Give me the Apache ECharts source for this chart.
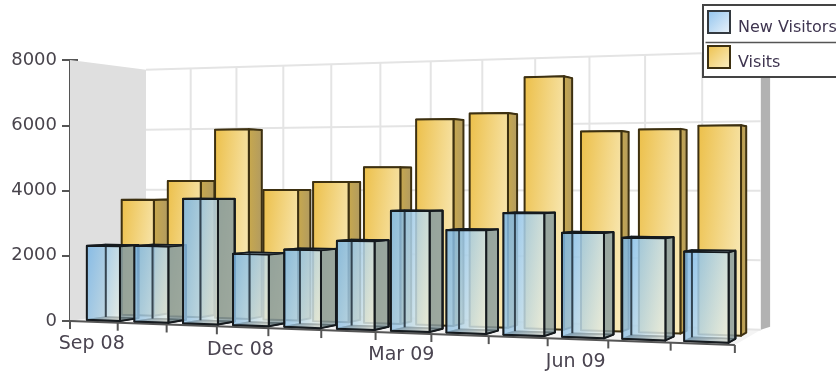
<!DOCTYPE html>
<html>
<head>
<meta charset="utf-8">
<style>html,body{margin:0;padding:0;background:#fff}#chart{width:836px;height:373px}</style>
<script src="https://cdn.jsdelivr.net/npm/echarts@6/dist/echarts.min.js"></script>
</head>
<body>
<div id="chart"></div>
<script>
// Monthly traffic, Sep 08 to Aug 09
var months = ['Sep 08','Oct 08','Nov 08','Dec 08','Jan 09','Feb 09','Mar 09','Apr 09','May 09','Jun 09','Jul 09','Aug 09'];
var shownMonths = ['Sep 08','Dec 08','Mar 09','Jun 09'];
var newVisitors = [2290,2310,3750,2120,2270,2550,3430,2900,3390,2860,2740,2390];
var visits = [3690,4290,5900,4010,4260,4700,6120,6270,7300,5700,5740,5820];
var valueTicks = [0,2000,4000,6000,8000];

// Camera for the box: u runs along the categories, d into the depth, v up the value axis.
var cam = {a:555, b:88.8, c:70, e:16, f:-27.6, k:321, g:-0.1495, h:0.0877, H:261};
function project(u, d, v) {
  var w = 1 + cam.g*u + cam.h*d;
  var x = (cam.a*u + cam.b*d + cam.c)/w;
  var y = (cam.f*u + cam.e*d + cam.k - cam.H*v)/w;
  return [x, y];
}
var lg = echarts.graphic.LinearGradient;

// Turns a grid coordinate into unit fractions of the plot
function fractions(api, params, cat, val) {
  var p = api.coord([cat, val]), s = params.coordSys;
  return {u:(p[0]-s.x)/s.width, v:(s.y+s.height-p[1])/s.height, band:api.size([1,0])[0]/s.width};
}
function poly(points, style) {
  style.lineJoin = 'round';
  return {type:'polygon', shape:{points:points}, style:style, silent:true};
}
function seg(p, q, stroke, lw) {
  return {type:'line', shape:{x1:p[0],y1:p[1],x2:q[0],y2:q[1]}, style:{stroke:stroke,lineWidth:lw,fill:null}, silent:true};
}
// Face shading: the top right corner sits 70% along the ramp and the bottom left 30%, whatever the bar's height
function faceFill(p0, p1, p2, c0, c1) {
  var w = Math.abs(p1[0]-p0[0]), h = Math.abs(p2[1]-p1[1]);
  var D = 1/(0.49/(w*w) + 0.09/(h*h));
  return new lg(0, 0, 0.7*D/(w*w), 0.3*D/(h*h), [{offset:0,color:c0},{offset:1,color:c1}]);
}

function renderRoom(params, api) {
  var ch = [];
  var top = fractions(api, params, 0, valueTicks[valueTicks.length-1]).v;
  // floor, rear wall, side wall and the wall's thick right edge
  ch.push(poly([project(0,0,0),project(1,0,0),project(1,1,0),project(0,1,0)], {fill:'#f4f4f4'}));
  ch.push(poly([project(0,1,0),project(1,1,0),project(1,1,top),project(0,1,top)], {fill:'#ffffff'}));
  ch.push(poly([project(0,0,0),project(0,1,0),project(0,1,top),project(0,0,top)], {fill:'#dfdfdf'}));
  ch.push(poly([project(1,1,0),project(1.013,1,0.012),project(1.013,1,top),project(1,1,top)], {fill:'#b2b2b2'}));
  valueTicks.forEach(function (t) {
    var v = fractions(api, params, 0, t).v;
    ch.push(seg(project(0,1,v), project(1,1,v), '#e4e4e4', 2));
  });
  for (var i = 1; i < months.length; i++) {
    var u = i/months.length;
    ch.push(seg(project(u,1,0), project(u,1,top), '#e4e4e4', 2));
  }
  return {type:'group', children:ch};
}

function renderAxis(params, api) {
  var ch = [seg(project(0,0,0), project(1,0,0), '#555555', 2)];
  for (var i = 0; i <= months.length; i++) {
    var p = project(i/months.length,0,0);
    ch.push(seg(p, [p[0], p[1]+8], '#555555', 2));
  }
  months.forEach(function (m, i) {
    if (shownMonths.indexOf(m) < 0) return;
    var p = project((i+0.5)/months.length,0,0);
    ch.push({type:'text', silent:true, style:{x:p[0]-2, y:p[1]+22.5, text:m, align:'center', verticalAlign:'middle',
      fill:'#4a4450', font:'19px "DejaVu Sans"'}});
  });
  return {type:'group', children:ch};
}

function box(f, d0, d1) {
  var hw = f.band*0.35, u0 = f.u-hw, u1 = f.u+hw, v = f.v;
  return {
    fb0:project(u0,d0,0), fb1:project(u1,d0,0), ft0:project(u0,d0,v), ft1:project(u1,d0,v),
    bb0:project(u0,d1,0), bb1:project(u1,d1,0), bt0:project(u0,d1,v), bt1:project(u1,d1,v)
  };
}

function renderVisits(params, api) {
  var f = fractions(api, params, api.value(0), api.value(1));
  var b = box(f, 0.57, 0.77), edge = '#3d3010';
  return {type:'group', children:[
    poly([b.ft0,b.ft1,b.bt1,b.bt0], {fill:'#e9d9a0',stroke:edge,lineWidth:1.5}),
    poly([b.fb1,b.bb1,b.bt1,b.ft1], {fill:new lg(0,0,1,0,[{offset:0,color:'#c9a94c'},{offset:1,color:'#b09a62'}]),stroke:edge,lineWidth:2}),
    poly([b.fb0,b.fb1,b.ft1,b.ft0], {fill:faceFill(b.ft0,b.ft1,b.fb1,'#ecbf48','#faeec4'),stroke:edge,lineWidth:2})
  ]};
}

function renderNewVisitors(params, api) {
  var f = fractions(api, params, api.value(0), api.value(1));
  var b = box(f, 0.12, 0.36), edge = '#151a1e', inner = 'rgba(20,30,40,0.72)';
  return {type:'group', children:[
    poly([b.bb0,b.bb1,b.bt1,b.bt0], {fill:faceFill(b.bt0,b.bt1,b.bb1,'rgba(125,185,232,0.6)','rgba(240,240,225,0.35)'),stroke:inner,lineWidth:1.5}),
    poly([b.fb0,b.fb1,b.bb1,b.bb0], {fill:new lg(0,0,1,0,[{offset:0,color:'rgba(0,0,0,0.9)'},{offset:1,color:'rgba(0,0,0,0.2)'}]),stroke:edge,lineWidth:1.5}),
    poly([b.fb0,b.bb0,b.bt0,b.ft0], {fill:'rgba(90,150,205,0.45)',stroke:inner,lineWidth:1.5}),
    poly([b.fb1,b.bb1,b.bt1,b.ft1], {fill:'rgba(125,145,150,0.72)',stroke:edge,lineWidth:2}),
    poly([b.fb0,b.fb1,b.ft1,b.ft0], {fill:faceFill(b.ft0,b.ft1,b.fb1,'rgba(122,185,235,0.72)','rgba(240,242,228,0.72)'),stroke:edge,lineWidth:2}),
    poly([b.ft0,b.ft1,b.bt1,b.bt0], {fill:'rgba(200,225,240,0.6)',stroke:edge,lineWidth:1.5}),
    seg(b.bb0, b.bt0, inner, 2),
    seg(b.bb1, b.bt1, edge, 2)
  ]};
}

function indexed(values) { return values.map(function (v, i) { return [i, v]; }); }

var chart = echarts.init(document.getElementById('chart'), null, {renderer:'canvas'});
var valueAxisBase = {type:'value', min:0, max:8000, interval:2000, splitLine:{show:false}, position:'left'};
chart.setOption({
  animation:false,
  backgroundColor:'#ffffff',
  grid:{left:70, top:60, width:665, height:261, containLabel:false},
  xAxis:{type:'category', data:months, show:false},
  yAxis:[
    Object.assign({}, valueAxisBase, {
      axisLine:{show:true, lineStyle:{color:'#555555', width:2}},
      axisTick:{show:true, length:8, lineStyle:{color:'#555555', width:2}},
      axisLabel:{color:'#48444c', fontSize:18, fontFamily:'DejaVu Sans', margin:13, formatter:function (v) { return String(v); }}
    }),
    Object.assign({}, valueAxisBase, {
      axisLine:{show:false}, axisLabel:{show:false},
      axisTick:{show:true, inside:true, length:8, lineStyle:{color:'#555555', width:2}}
    })
  ],
  legend:{
    left:703, top:5, orient:'vertical', icon:'rect', itemWidth:22, itemHeight:22, itemGap:9,
    padding:[5,70,6,4], backgroundColor:'#ffffff', borderColor:'#444444', borderWidth:2, align:'left',
    formatter:'{s|}\n{t|{name}}',
    textStyle:{rich:{
      s:{fontSize:1, height:12},
      t:{color:'#3f3550', fontSize:16, fontFamily:'DejaVu Sans', height:18, padding:[0,0,0,3]}
    }},
    data:[
      {name:'New Visitors', itemStyle:{color:new lg(0,0,1,1,[{offset:0,color:'#8fc3ee'},{offset:1,color:'#eef4fa'}]), borderColor:'#33393f', borderWidth:2}},
      {name:'Visits', itemStyle:{color:new lg(0,0,1,1,[{offset:0,color:'#edc04a'},{offset:1,color:'#fbf0c8'}]), borderColor:'#3d3010', borderWidth:2}}
    ]
  },
  graphic:[{type:'line', z:20, left:703, top:40, shape:{x1:0,y1:0,x2:140,y2:0}, style:{stroke:'#555555',lineWidth:1.5}}],
  series:[
    {type:'custom', name:'room', coordinateSystem:'cartesian2d', clip:false, z:1, data:[[0,0]], renderItem:renderRoom, silent:true},
    {type:'custom', name:'Visits', coordinateSystem:'cartesian2d', clip:false, z:3, itemStyle:{color:'#edc04a'}, data:indexed(visits), renderItem:renderVisits, encode:{x:0,y:1}},
    {type:'custom', name:'axis', coordinateSystem:'cartesian2d', clip:false, z:4, data:[[0,0]], renderItem:renderAxis, silent:true},
    {type:'custom', name:'New Visitors', coordinateSystem:'cartesian2d', clip:false, z:5, itemStyle:{color:'#8fc3ee'}, data:indexed(newVisitors), renderItem:renderNewVisitors, encode:{x:0,y:1}}
  ]
});
</script>
</body>
</html>
